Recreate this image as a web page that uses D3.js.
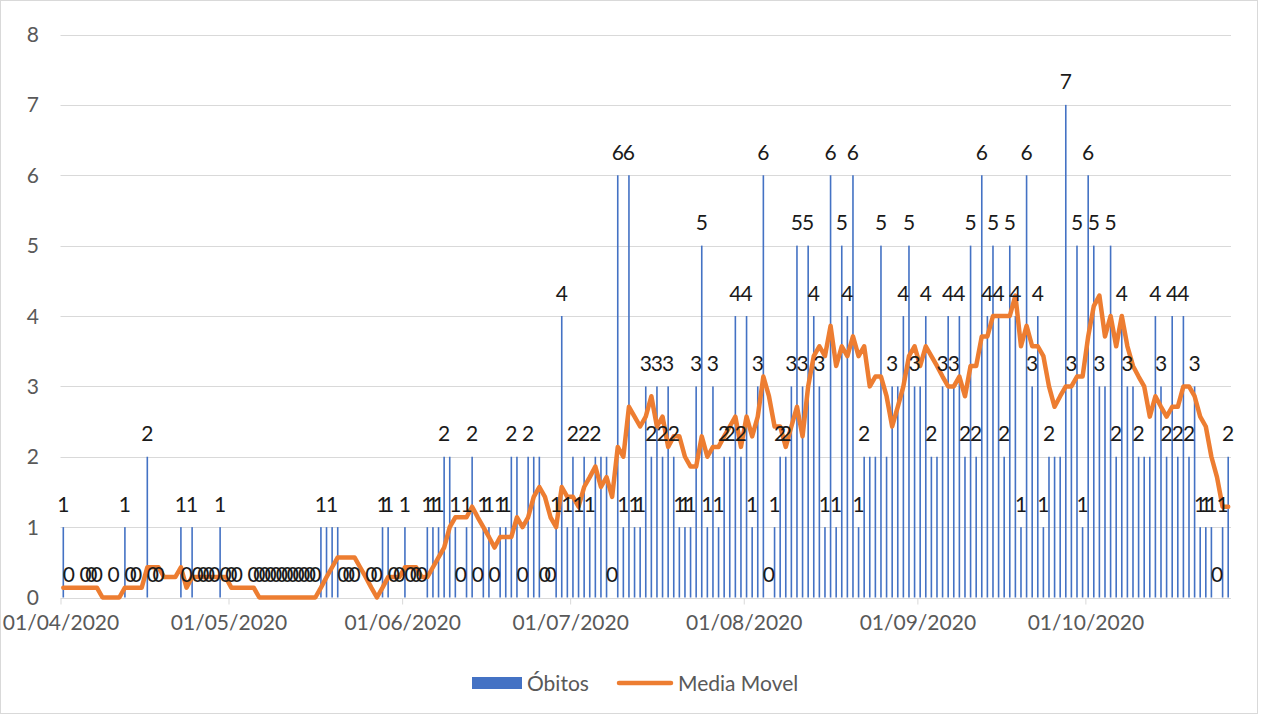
<!DOCTYPE html>
<html><head><meta charset="utf-8">
<script src="https://cdn.jsdelivr.net/npm/d3@7"></script>
<style>body{margin:0;background:#fff}svg{display:block}</style>
</head><body>
<svg id="c" width="1262" height="715"></svg>
<script>
// ---- data ----
const startDate = "2020-04-01";   // first day of the series (daily values)
const obitos = [
 1,0,null,null,0,0,0,null,null,0,
 null,1,0,0,null,2,0,0,null,null,
 null,1,0,1,0,0,0,0,1,0,
 0,0,null,null,0,0,0,0,0,0,
 0,0,0,0,0,0,1,1,1,1,
 0,0,0,null,null,0,0,1,1,0,
 0,1,0,0,0,1,1,1,2,2,
 1,0,1,2,0,1,1,0,1,1,
 2,2,0,2,2,2,0,0,1,4,
 1,2,1,2,1,2,2,2,0,6,
 1,6,1,1,3,2,3,2,3,2,
 1,1,1,3,5,1,3,1,2,2,
 4,2,4,1,3,6,0,1,2,2,
 3,5,3,5,4,3,1,6,1,5,
 4,6,1,2,2,2,5,2,3,3,
 4,5,3,3,4,2,2,3,4,3,
 4,2,5,2,6,4,5,4,2,5,
 4,1,6,3,4,1,2,2,2,7,
 3,5,1,6,5,3,3,5,2,4,
 3,3,2,2,2,4,3,2,4,2,
 4,2,3,1,1,1,0,1,2
];
const mediaMovel = [
 .14,.14,.14,.14,.14,.14,.14,0,0,0,
 0,.14,.14,.14,.14,.43,.43,.43,.29,.29,
 .29,.43,.14,.29,.29,.29,.29,.29,.29,.29,
 .14,.14,.14,.14,.14,0,0,0,0,0,
 0,0,0,0,0,0,.14,.29,.43,.57,
 .57,.57,.57,.43,.29,.14,0,.14,.29,.29,
 .29,.43,.43,.43,.29,.29,.43,.57,.71,1.0,
 1.14,1.14,1.14,1.29,1.14,1.0,.86,.71,.86,.86,
 .86,1.14,1.0,1.14,1.43,1.57,1.43,1.14,1.0,1.57,
 1.43,1.43,1.29,1.57,1.71,1.86,1.57,1.71,1.43,2.14,
 2.0,2.71,2.57,2.43,2.57,2.86,2.43,2.57,2.14,2.29,
 2.29,2.0,1.86,1.86,2.29,2.0,2.14,2.14,2.29,2.43,
 2.57,2.14,2.57,2.29,2.57,3.14,2.86,2.43,2.43,2.14,
 2.43,2.71,2.29,3.0,3.43,3.57,3.43,3.86,3.29,3.57,
 3.43,3.71,3.43,3.57,3.0,3.14,3.14,2.86,2.43,2.71,
 3.0,3.43,3.57,3.29,3.57,3.43,3.29,3.14,3.0,3.0,
 3.14,2.86,3.29,3.29,3.71,3.71,4.0,4.0,4.0,4.0,
 4.29,3.57,3.86,3.57,3.57,3.43,3.0,2.71,2.86,3.0,
 3.0,3.14,3.14,3.71,4.14,4.29,3.71,4.0,3.57,4.0,
 3.57,3.29,3.14,3.0,2.57,2.86,2.71,2.57,2.71,2.71,
 3.0,3.0,2.86,2.57,2.43,2.0,1.71,1.29,1.29
];
// day indices whose value label is not visible in the reference (hidden behind a neighbour)
const hiddenLabelDays = [47,49,69,81,84,85,96,97,144,145,147,149,153,156,177,178,186,191,193,194];
const yTicks = [0,1,2,3,4,5,6,7,8];
const xTickLabels = ["01/04/2020","01/05/2020","01/06/2020","01/07/2020","01/08/2020","01/09/2020","01/10/2020"];
const seriesNames = ["Óbitos","Media Movel"];

// ---- setup ----
const FONT = "Lato, 'Open Sans', sans-serif";
const svg = d3.select("#c");
const parse = d3.timeParse("%Y-%m-%d");
const fmt = d3.timeFormat("%d/%m/%Y");
const parseLbl = d3.timeParse("%d/%m/%Y");
const t0 = parse(startDate);
const dates = obitos.map((_, i) => d3.timeDay.offset(t0, i));
const tEnd = d3.timeDay.offset(t0, obitos.length);

const pLeft = 60.5, pRight = 1231, pTop = 34.5, pBottom = 597.5;
const x = d3.scaleTime().domain([t0, tEnd]).range([pLeft, pRight]);
const y = d3.scaleLinear().domain([0, 8]).range([pBottom, pTop]);
const mid = d => x(d3.timeHour.offset(d, 12));

// chart border
svg.append("rect").attr("x",0.5).attr("y",0.5).attr("width",1257).attr("height",713)
  .attr("fill","#fff").attr("stroke","#D9D9D9");

// gridlines
svg.append("g").selectAll("line").data(yTicks).join("line")
  .attr("x1", pLeft).attr("x2", pRight)
  .attr("y1", d => Math.round(y(d)) + 0.5).attr("y2", d => Math.round(y(d)) + 0.5)
  .attr("stroke", "#D9D9D9").attr("stroke-width", 1);

// y labels
svg.append("g").selectAll("text").data(yTicks).join("text")
  .attr("x", 39).attr("y", d => y(d)).attr("dy", "0.36em")
  .attr("text-anchor", "end").attr("font-family", FONT).attr("font-size", 21)
  .attr("fill", "#595959").text(d => d);

// x axis ticks + labels
const xAxis = d3.axisBottom(x)
  .tickValues(xTickLabels.map(s => parseLbl(s)))
  .tickFormat(fmt).tickSize(6).tickPadding(11);
const gx = svg.append("g").attr("transform", `translate(0,${Math.round(pBottom)+0.5})`).call(xAxis);
gx.select(".domain").remove();
gx.selectAll(".tick line").attr("stroke", "#D9D9D9");
gx.selectAll(".tick text").attr("font-family", FONT).attr("font-size", 21).attr("fill", "#595959");

// bars
const bars = dates.map((d, i) => ({d, i, v: obitos[i]})).filter(o => o.v !== null);
svg.append("g").selectAll("rect").data(bars.filter(o => o.v > 0)).join("rect")
  .attr("x", o => mid(o.d) - 0.8).attr("width", 1.6)
  .attr("y", o => y(o.v)).attr("height", o => y(0) - y(o.v))
  .attr("fill", "#4472C4");

// moving average
const line = d3.line().x((v, i) => mid(dates[i])).y(v => y(v));
svg.append("path").datum(mediaMovel).attr("d", line)
  .attr("fill", "none").attr("stroke", "#ED7D31").attr("stroke-width", 4.5)
  .attr("stroke-linejoin", "round").attr("stroke-linecap", "round");

// data labels
const hidden = new Set(hiddenLabelDays);
svg.append("g").selectAll("text").data(bars.filter(o => !hidden.has(o.i))).join("text")
  .attr("x", o => mid(o.d)).attr("y", o => y(o.v) - 15.5)
  .attr("text-anchor", "middle").attr("font-family", FONT).attr("font-size", 21)
  .attr("fill", "#1a1a1a").text(o => o.v);

// legend
const lg = svg.append("g");
lg.append("rect").attr("x", 472).attr("y", 677).attr("width", 50).attr("height", 12).attr("fill", "#4472C4");
lg.append("text").attr("x", 527).attr("y", 691).attr("font-family", FONT).attr("font-size", 21)
  .attr("fill", "#595959").text(seriesNames[0]);
lg.append("line").attr("x1", 619).attr("x2", 671).attr("y1", 683).attr("y2", 683)
  .attr("stroke", "#ED7D31").attr("stroke-width", 4.5).attr("stroke-linecap", "round");
lg.append("text").attr("x", 678).attr("y", 691).attr("font-family", FONT).attr("font-size", 21)
  .attr("fill", "#595959").text(seriesNames[1]);
</script>
</body></html>
